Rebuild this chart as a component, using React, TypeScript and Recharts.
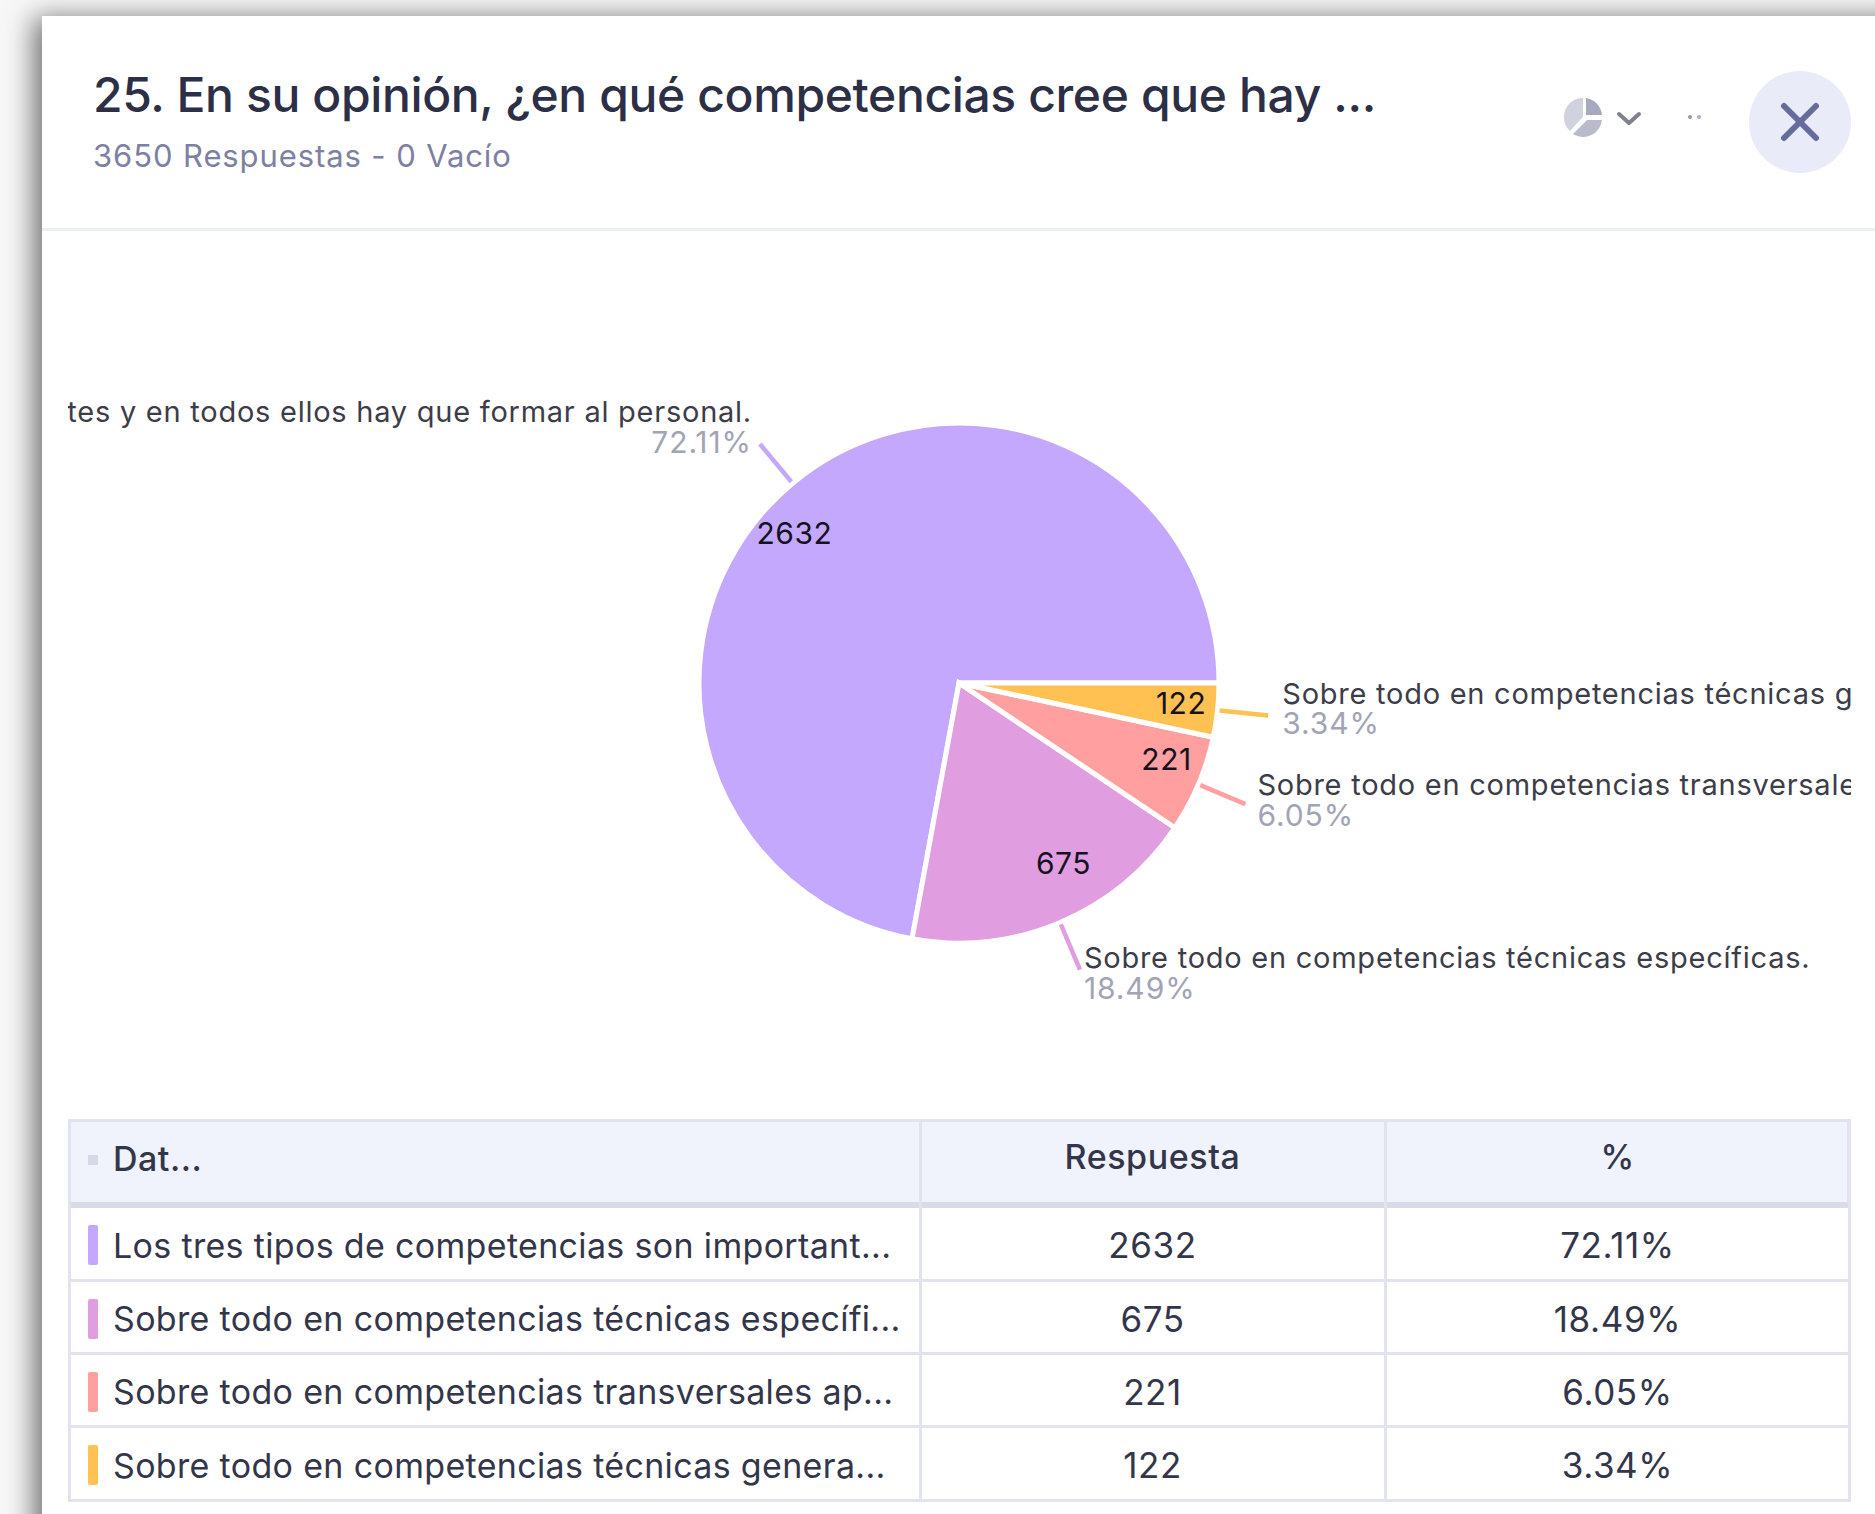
import { PieChart, Pie, Cell } from "recharts";

const categories = [
  "Los tres tipos de competencias son importantes y en todos ellos hay que formar al personal.",
  "Sobre todo en competencias técnicas específicas.",
  "Sobre todo en competencias transversales aplicables.",
  "Sobre todo en competencias técnicas generales.",
];
const shortNames = [
  "Los tres tipos de competencias son important...",
  "Sobre todo en competencias técnicas específi...",
  "Sobre todo en competencias transversales ap...",
  "Sobre todo en competencias técnicas genera...",
];
const responses = [2632, 675, 221, 122];
const percents = ["72.11%", "18.49%", "6.05%", "3.34%"];
const colors = ["#c4a8fd", "#e09de0", "#ff9f9f", "#ffc152"];

const chartData = categories.map((name, i) => ({ name, value: responses[i] }));

const FONT = "Inter, 'Noto Sans', sans-serif";
const RADIAN = Math.PI / 180;

// the source chart nudges each outer label a bit differently to avoid overlaps
const labelGap = [
  { dx: -8, name: -33, pct: -2, val: 2 },
  { dx: 4, name: -12, pct: 18, val: -2 },
  { dx: 12, name: -20, pct: 11, val: -1 },
  { dx: 14, name: -22, pct: 7, val: -1 },
];

function SliceLabel(props: any) {
  const { cx, cy, midAngle, outerRadius, index, value } = props;
  const cos = Math.cos(midAngle * RADIAN);
  const sin = Math.sin(midAngle * RADIAN);
  const anchor = cos < 0 ? "end" : "start";
  const at = (r: number) => ({ x: cx + r * cos, y: cy - r * sin });
  const a = at(outerRadius + 2);
  const b = at(outerRadius + 51);
  const inner = at(outerRadius - 62);
  const gap = labelGap[index];
  return (
    <g style={{ fontFamily: FONT }}>
      <line x1={a.x} y1={a.y} x2={b.x} y2={b.y} stroke={colors[index]} strokeWidth={4.5} />
      <text x={inner.x} y={inner.y + gap.val} textAnchor={anchor} dominantBaseline="central" fontSize={30} letterSpacing={0.5} fill="#15121f">
        {value}
      </text>
      <text x={b.x + gap.dx} y={b.y + gap.name} textAnchor={anchor} dominantBaseline="central" fontSize={29} letterSpacing={0.75} fill="#3c3d48">
        {categories[index]}
      </text>
      <text x={b.x + gap.dx} y={b.y + gap.pct} textAnchor={anchor} dominantBaseline="central" fontSize={30} letterSpacing={0.9} fill="#a2a4b4">
        {percents[index]}
      </text>
    </g>
  );
}

const borderColor = "#e1e4ef";

function TableRow({ i }: { i: number }) {
  const top = [1208, 1282, 1355, 1428][i];
  const bottom = [1282, 1355, 1428, 1502][i];
  const cell = {
    position: "absolute" as const,
    top: 0,
    height: bottom - top,
    display: "flex",
    alignItems: "center",
    justifyContent: "center",
    fontSize: 35,
    letterSpacing: 0.6,
    color: "#33364a",
  };
  return (
    <div style={{ position: "absolute", left: 68, width: 1782, top, height: bottom - top, borderBottom: `3px solid ${borderColor}`, boxSizing: "border-box" }}>
      <div style={{ position: "absolute", left: 20, top: 17, width: 10, height: 40, borderRadius: 2, background: colors[i] }} />
      <div style={{ ...cell, left: 45, justifyContent: "flex-start", whiteSpace: "nowrap", fontSize: 34, letterSpacing: 0.33 }}>{shortNames[i]}</div>
      <div style={{ ...cell, left: 852, width: 465 }}>{responses[i]}</div>
      <div style={{ ...cell, left: 1317, width: 465 }}>{percents[i]}</div>
    </div>
  );
}

export default function App() {
  return (
    <div style={{ position: "absolute", left: 0, top: 0, width: 1875, height: 1514, overflow: "hidden", background: "#f7f7f8", fontFamily: FONT }}>
      {/* card */}
      <div style={{ position: "absolute", left: 42, top: 16, width: 1900, height: 1560, background: "#fff", boxShadow: "-8px 2px 26px rgba(0,0,0,0.55)" }} />

      {/* header */}
      <div style={{ position: "absolute", left: 93, top: 63, fontSize: 48, fontWeight: 500, letterSpacing: -0.37, color: "#2c2f45", whiteSpace: "nowrap", lineHeight: "64px" }}>
        25. En su opinión, ¿en qué competencias cree que hay ...
      </div>
      <div style={{ position: "absolute", left: 93, top: 135, fontSize: 31, color: "#7d80a2", whiteSpace: "nowrap", lineHeight: "42px", letterSpacing: 0.9 }}>
        3650 Respuestas - 0 Vacío
      </div>
      <div style={{ position: "absolute", left: 42, top: 228, width: 1833, height: 3, background: "#eeeff2" }} />

      {/* toolbar icons */}
      <svg style={{ position: "absolute", left: 1550, top: 60, overflow: "visible" }} width={325} height={130}>
        <path d="M33 57 L33 38 A19 19 0 0 0 20 71 Z" fill="#d0d2de" />
        <path d="M36 55 L36 38 A19 19 0 0 1 52 55 Z" fill="#a6a9c0" />
        <path d="M37 60 L52 60 A19 19 0 0 1 23 74 Z" fill="#b9bbcd" />
        <path d="M69 54 L79 63 L89 54" fill="none" stroke="#7f8090" strokeWidth={4} strokeLinecap="round" strokeLinejoin="round" />
        <circle cx={140} cy={57} r={2} fill="#8e94c4" />
        <circle cx={149} cy={57} r={2} fill="#a8acd0" />
        <circle cx={250} cy={62} r={51} fill="#e9ebf8" />
        <path d="M234 46 L266 78 M266 46 L234 78" stroke="#666b9d" strokeWidth={6} strokeLinecap="round" />
      </svg>

      {/* chart, its box also clips the long labels */}
      <div style={{ position: "absolute", left: 68, top: 240, width: 1783, height: 860, overflow: "hidden" }}>
        <PieChart width={1783} height={860} margin={{ top: 0, right: 0, bottom: 0, left: 0 }}>
          <Pie
            data={chartData}
            dataKey="value"
            nameKey="name"
            cx={891}
            cy={443}
            innerRadius={0}
            outerRadius={260}
            startAngle={0}
            endAngle={360}
            paddingAngle={0}
            stroke="#ffffff"
            strokeWidth={5}
            labelLine={false}
            label={SliceLabel}
            isAnimationActive={false}
          >
            {chartData.map((d, i) => (
              <Cell key={d.name} fill={colors[i]} />
            ))}
          </Pie>
        </PieChart>
      </div>

      {/* table */}
      <div style={{ position: "absolute", left: 68, top: 1119, width: 1782, height: 89, background: "#f0f3fb", border: `3px solid ${borderColor}`, borderBottom: "6px solid #d9dce8", boxSizing: "border-box", borderRadius: "4px 4px 0 0" }}>
        <div style={{ position: "absolute", left: 17, top: 33, width: 10, height: 10, background: "#d6d9e8" }} />
        <div style={{ position: "absolute", left: 42, top: 15, fontSize: 34, fontWeight: 500, letterSpacing: 0.5, color: "#33364a", lineHeight: "44px" }}>Dat...</div>
        <div style={{ position: "absolute", left: 849, width: 465, top: 13, textAlign: "center", fontSize: 34, fontWeight: 500, letterSpacing: 0.6, color: "#33364a", lineHeight: "44px" }}>Respuesta</div>
        <div style={{ position: "absolute", left: 1314, width: 465, top: 13, textAlign: "center", fontSize: 34, fontWeight: 500, color: "#33364a", lineHeight: "44px" }}>%</div>
      </div>
      {responses.map((_, i) => (
        <TableRow key={i} i={i} />
      ))}
      <div style={{ position: "absolute", left: 68, top: 1119, width: 3, height: 383, background: borderColor }} />
      <div style={{ position: "absolute", left: 919, top: 1119, width: 3, height: 383, background: borderColor }} />
      <div style={{ position: "absolute", left: 1384, top: 1119, width: 3, height: 383, background: borderColor }} />
      <div style={{ position: "absolute", left: 1848, top: 1119, width: 3, height: 383, background: borderColor }} />
    </div>
  );
}
